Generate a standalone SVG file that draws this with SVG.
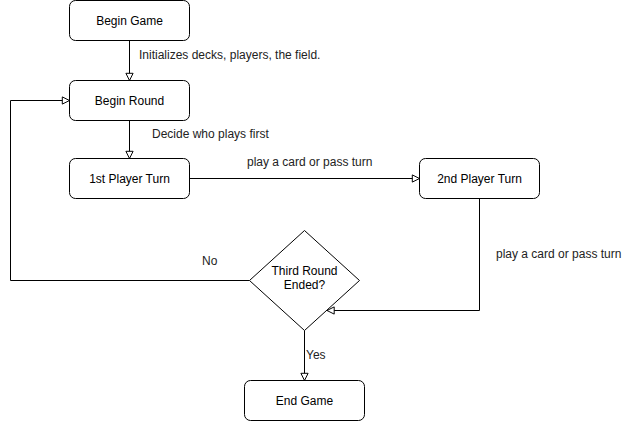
<svg xmlns="http://www.w3.org/2000/svg" width="622" height="421" viewBox="0 0 622 421">
<style>
.node{fill:#fff;stroke:#000;stroke-width:1}
.t{font-family:"Liberation Sans",Arial,sans-serif;font-size:12px;fill:#000;text-anchor:middle}
.lbl{font-family:"Liberation Sans",Arial,sans-serif;font-size:12px;fill:#222}
.edge{fill:none;stroke:#000;stroke-width:1}
</style>
<defs>
<marker id="arr" viewBox="0 0 10 10" refX="9" refY="5" markerWidth="9" markerHeight="9" markerUnits="userSpaceOnUse" orient="auto">
<path d="M1,1 L9,5 L1,9 Z" fill="#fff" stroke="#000" stroke-width="1.1"/>
</marker>
</defs>
<rect width="622" height="421" fill="#fff"/>
<g id="connectors">
<path class="edge" d="M129.5,40.5 V80.5" marker-end="url(#arr)"/>
<path class="edge" d="M129.5,120.5 V158.5" marker-end="url(#arr)"/>
<path class="edge" d="M189.5,178.5 H419.5" marker-end="url(#arr)"/>
<path class="edge" d="M479.5,198.5 V310.5 H327" marker-end="url(#arr)"/>
<path class="edge" d="M249.5,280.5 H10.5 V100.5 H69.5" marker-end="url(#arr)"/>
<path class="edge" d="M304.5,330.5 V380.5" marker-end="url(#arr)"/>
<text class="lbl" x="139" y="59">Initializes decks, players, the field.</text>
<text class="lbl" x="152" y="138">Decide who plays first</text>
<text class="lbl" x="247" y="166">play a card or pass turn</text>
<text class="lbl" x="496" y="258">play a card or pass turn</text>
<text class="lbl" x="202" y="265">No</text>
<text class="lbl" x="306" y="359">Yes</text>
</g>
<g id="begin-game">
<rect class="node" x="69.5" y="0.5" width="120" height="40" rx="6"/>
<text class="t" x="129.5" y="24.5">Begin Game</text>
</g>
<g id="begin-round">
<rect class="node" x="69.5" y="80.5" width="120" height="40" rx="6"/>
<text class="t" x="129.5" y="104.5">Begin Round</text>
</g>
<g id="p1-turn">
<rect class="node" x="69.5" y="158.5" width="120" height="40" rx="6"/>
<text class="t" x="129.5" y="182.5">1st Player Turn</text>
</g>
<g id="p2-turn">
<rect class="node" x="419.5" y="158.5" width="120" height="40" rx="6"/>
<text class="t" x="479.5" y="182.5">2nd Player Turn</text>
</g>
<g id="third-round">
<path class="node" d="M304.5,230.5 L359.5,280.5 L304.5,330.5 L249.5,280.5 Z"/>
<text class="t" x="304.5" y="275">Third Round</text>
<text class="t" x="304.5" y="289">Ended?</text>
</g>
<g id="end-game">
<rect class="node" x="244.5" y="380.5" width="120" height="40" rx="6"/>
<text class="t" x="304.5" y="404.5">End Game</text>
</g>
</svg>
